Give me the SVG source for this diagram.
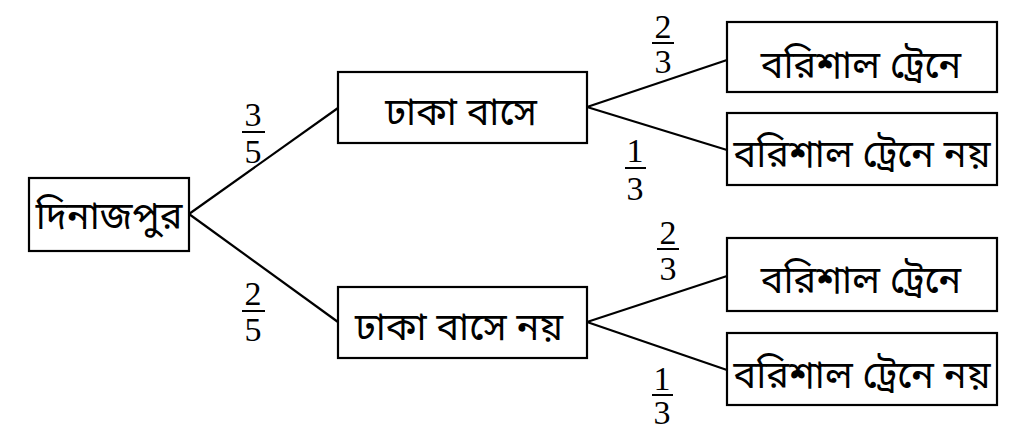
<svg xmlns="http://www.w3.org/2000/svg" width="1024" height="430" viewBox="0 0 1024 430">
<style>
.box{fill:#fff;stroke:#000;stroke-width:2.2}
.lbl{font-family:"Noto Sans Bengali","Noto Sans",sans-serif;font-size:38px;fill:#000;text-anchor:middle}
.num{font-family:"Liberation Serif",serif;font-size:34px;fill:#000;text-anchor:middle}
.edge{stroke:#000;stroke-width:2.2;fill:none}
.bar{stroke:#000;stroke-width:2}
</style>
<rect width="1024" height="430" fill="#fff"/>
<g id="connectors">
<line class="edge" x1="189" y1="214" x2="338" y2="108"/>
<line class="edge" x1="189" y1="214" x2="338" y2="322"/>
<line class="edge" x1="587" y1="107" x2="727" y2="60"/>
<line class="edge" x1="587" y1="107" x2="727" y2="150"/>
<line class="edge" x1="587" y1="322" x2="727" y2="276"/>
<line class="edge" x1="587" y1="322" x2="727" y2="370"/>
</g>
<g id="probabilities">
<g id="p1"><text class="num" x="253" y="126">3</text><line class="bar" x1="242" y1="132" x2="265" y2="132"/><text class="num" x="253" y="163">5</text></g>
<g id="p2"><text class="num" x="253" y="305">2</text><line class="bar" x1="242" y1="311" x2="265" y2="311"/><text class="num" x="253" y="341">5</text></g>
<g id="p3"><text class="num" x="663" y="38">2</text><line class="bar" x1="652" y1="43" x2="674" y2="43"/><text class="num" x="663" y="73">3</text></g>
<g id="p4"><text class="num" x="635" y="162">1</text><line class="bar" x1="625" y1="168" x2="646" y2="168"/><text class="num" x="635" y="200">3</text></g>
<g id="p5"><text class="num" x="668" y="244">2</text><line class="bar" x1="657" y1="249" x2="679" y2="249"/><text class="num" x="668" y="280">3</text></g>
<g id="p6"><text class="num" x="662" y="390">1</text><line class="bar" x1="652" y1="395" x2="673" y2="395"/><text class="num" x="662" y="424">3</text></g>
</g>
<g id="root"><rect class="box" x="29" y="178" width="160" height="73"/><text class="lbl" x="109" y="229">দিনাজপুর</text></g>
<g id="bus"><rect class="box" x="338" y="72" width="249" height="71"/><text class="lbl" x="461" y="125">ঢাকা বাসে</text></g>
<g id="notbus"><rect class="box" x="338" y="287" width="249" height="71"/><text class="lbl" x="459" y="340">ঢাকা বাসে নয়</text></g>
<g id="bus-train"><rect class="box" x="727" y="22" width="270" height="70"/><text class="lbl" x="861" y="78">বরিশাল ট্রেনে</text></g>
<g id="bus-notrain"><rect class="box" x="727" y="113" width="270" height="72"/><text class="lbl" x="862" y="167">বরিশাল ট্রেনে নয়</text></g>
<g id="notbus-train"><rect class="box" x="727" y="238" width="270" height="73"/><text class="lbl" x="861" y="293">বরিশাল ট্রেনে</text></g>
<g id="notbus-notrain"><rect class="box" x="727" y="333" width="270" height="72"/><text class="lbl" x="862" y="388">বরিশাল ট্রেনে নয়</text></g>
</svg>
